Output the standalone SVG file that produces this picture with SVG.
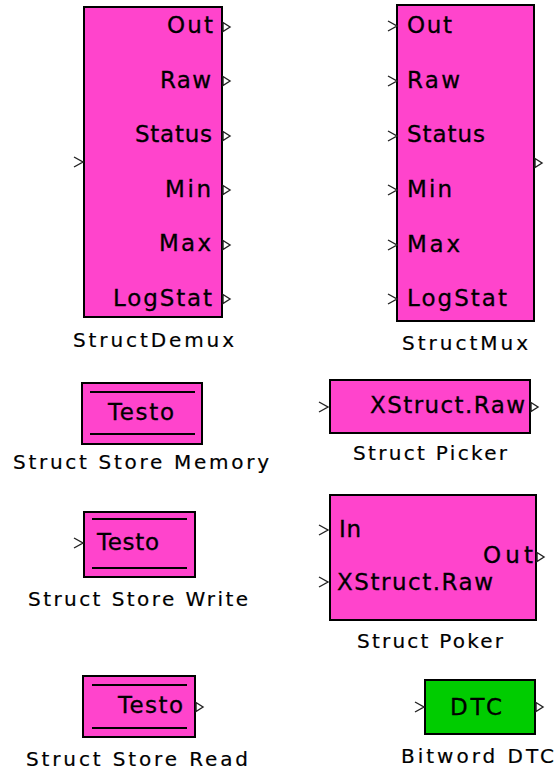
<svg xmlns="http://www.w3.org/2000/svg" xmlns:xlink="http://www.w3.org/1999/xlink" width="558" height="772" viewBox="0 0 558 772">
<style>
.blk{fill:#ff44cc;stroke:#000;stroke-width:2}
.grn{fill:#00cc00;stroke:#000;stroke-width:2}
.bar{stroke:#000;stroke-width:2}
.lbl{font-family:"DejaVu Sans",sans-serif;font-size:23px;fill:#000;stroke:#000;stroke-width:0.3}
.cap{font-family:"DejaVu Sans",sans-serif;font-size:20px;fill:#000;stroke:#000;stroke-width:0.2}
.pin{fill:none;stroke:#222;stroke-width:1.4}
.pout{fill:#fff;stroke:#222;stroke-width:1.4}
</style>
<defs>
<path id="inp" class="pin" d="M0,-5 L9,0 L0,5"/>
<path id="outp" class="pout" d="M0,-4.5 L7,0 L0,4.5 Z"/>
</defs>
<rect width="558" height="772" fill="#fff"/>
<g id="connectors"/>
<g id="structdemux">
<rect class="blk" x="84" y="7" width="138" height="310"/>
<use href="#inp" x="74" y="162"/>
<use href="#outp" x="223" y="27"/>
<use href="#outp" x="223" y="81"/>
<use href="#outp" x="223" y="136"/>
<use href="#outp" x="223" y="190"/>
<use href="#outp" x="223" y="245"/>
<use href="#outp" x="223" y="299"/>
<text class="lbl" x="167" y="33" textLength="46" lengthAdjust="spacing">Out</text>
<text class="lbl" x="160" y="88" textLength="51" lengthAdjust="spacing">Raw</text>
<text class="lbl" x="135" y="142" textLength="77" lengthAdjust="spacing">Status</text>
<text class="lbl" x="165" y="197" textLength="46" lengthAdjust="spacing">Min</text>
<text class="lbl" x="159" y="251" textLength="52" lengthAdjust="spacing">Max</text>
<text class="lbl" x="113" y="306" textLength="99" lengthAdjust="spacing">LogStat</text>
<text class="cap" x="73" y="347" textLength="161" lengthAdjust="spacing">StructDemux</text>
</g>
<g id="structmux">
<rect class="blk" x="397" y="5" width="137" height="316"/>
<use href="#inp" x="388" y="26"/>
<use href="#inp" x="388" y="81"/>
<use href="#inp" x="388" y="136"/>
<use href="#inp" x="388" y="190"/>
<use href="#inp" x="388" y="245"/>
<use href="#inp" x="388" y="299"/>
<use href="#outp" x="535" y="163"/>
<text class="lbl" x="407" y="33" textLength="45" lengthAdjust="spacing">Out</text>
<text class="lbl" x="407" y="88" textLength="53" lengthAdjust="spacing">Raw</text>
<text class="lbl" x="407" y="142" textLength="78" lengthAdjust="spacing">Status</text>
<text class="lbl" x="407" y="197" textLength="45" lengthAdjust="spacing">Min</text>
<text class="lbl" x="407" y="252" textLength="53" lengthAdjust="spacing">Max</text>
<text class="lbl" x="407" y="306" textLength="100" lengthAdjust="spacing">LogStat</text>
<text class="cap" x="402" y="350" textLength="126" lengthAdjust="spacing">StructMux</text>
</g>
<g id="structstorememory">
<rect class="blk" x="82" y="383" width="120" height="61"/>
<line class="bar" x1="90" y1="392" x2="195" y2="392"/>
<line class="bar" x1="90" y1="434" x2="195" y2="434"/>
<text class="lbl" x="108" y="420" textLength="66" lengthAdjust="spacing">Testo</text>
<text class="cap" x="13" y="469" textLength="256" lengthAdjust="spacing">Struct Store Memory</text>
</g>
<g id="structpicker">
<rect class="blk" x="330" y="380" width="200" height="53"/>
<use href="#inp" x="319" y="407"/>
<use href="#outp" x="531" y="407"/>
<text class="lbl" x="370" y="413" textLength="155" lengthAdjust="spacing">XStruct.Raw</text>
<text class="cap" x="353" y="460" textLength="154" lengthAdjust="spacing">Struct Picker</text>
</g>
<g id="structstorewrite">
<rect class="blk" x="84" y="512" width="111" height="65"/>
<line class="bar" x1="92" y1="519" x2="187" y2="519"/>
<line class="bar" x1="92" y1="568" x2="187" y2="568"/>
<use href="#inp" x="74" y="543"/>
<text class="lbl" x="97" y="550" textLength="62" lengthAdjust="spacing">Testo</text>
<text class="cap" x="28" y="606" textLength="220" lengthAdjust="spacing">Struct Store Write</text>
</g>
<g id="structpoker">
<rect class="blk" x="330" y="495" width="206" height="125"/>
<use href="#inp" x="319" y="530"/>
<use href="#inp" x="319" y="582"/>
<use href="#outp" x="537" y="557"/>
<text class="lbl" x="339" y="537" textLength="22" lengthAdjust="spacing">In</text>
<text class="lbl" x="337" y="590" textLength="156" lengthAdjust="spacing">XStruct.Raw</text>
<text class="lbl" x="483" y="563" textLength="50" lengthAdjust="spacing">Out</text>
<text class="cap" x="357" y="648" textLength="146" lengthAdjust="spacing">Struct Poker</text>
</g>
<g id="structstoreread">
<rect class="blk" x="83" y="676" width="112" height="61"/>
<line class="bar" x1="92" y1="685" x2="187" y2="685"/>
<line class="bar" x1="92" y1="728" x2="187" y2="728"/>
<use href="#outp" x="196" y="707"/>
<text class="lbl" x="118" y="713" textLength="65" lengthAdjust="spacing">Testo</text>
<text class="cap" x="26" y="766" textLength="222" lengthAdjust="spacing">Struct Store Read</text>
</g>
<g id="bitworddtc">
<rect class="grn" x="425" y="680" width="110" height="54"/>
<use href="#inp" x="415" y="707"/>
<use href="#outp" x="536" y="707"/>
<text class="lbl" x="450" y="715" textLength="52" lengthAdjust="spacing">DTC</text>
<text class="cap" x="401" y="763" textLength="153" lengthAdjust="spacing">Bitword DTC</text>
</g>
</svg>
